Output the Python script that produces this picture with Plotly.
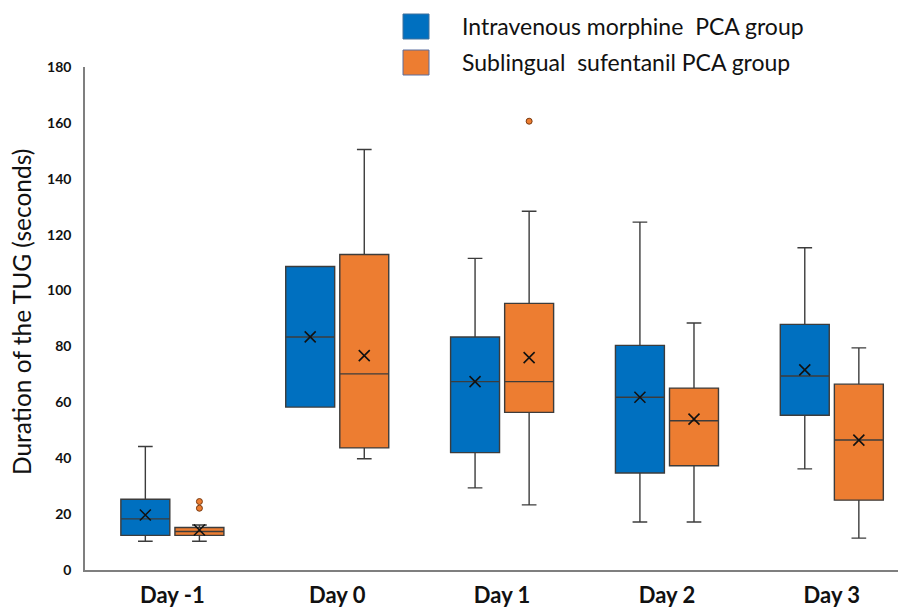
import plotly.graph_objects as go

days = ["Day -1", "Day 0", "Day 1", "Day 2", "Day 3"]
groups = ["Intravenous morphine  PCA group", "Sublingual  sufentanil PCA group"]
y_title = "Duration of the TUG (seconds)"

# Intravenous morphine PCA group
iv_min = [10.3, 58.3, 29.4, 17.2, 36.2]
iv_q1 = [12.4, 58.3, 42.0, 34.7, 55.4]
iv_med = [18.3, 83.4, 67.4, 61.8, 69.4]
iv_q3 = [25.3, 108.6, 83.4, 80.4, 87.9]
iv_max = [44.2, 108.6, 111.5, 124.5, 115.3]
iv_mean = [19.7, 83.4, 67.4, 61.8, 71.6]

# Sublingual sufentanil PCA group
sl_min = [10.3, 39.8, 23.3, 17.2, 11.4]
sl_q1 = [12.4, 43.7, 56.4, 37.3, 25.0]
sl_med = [13.8, 70.2, 67.4, 53.4, 46.5]
sl_q3 = [15.2, 112.9, 95.4, 65.1, 66.5]
sl_max = [16.1, 150.5, 128.4, 88.4, 79.5]
sl_mean = [14.3, 76.7, 76.0, 54.0, 46.5]

# Outliers (day index, value)
sl_out_day = [0, 0, 2]
sl_out_val = [22.1, 24.5, 160.6]

BLUE = "#0070C0"
ORANGE = "#ED7D31"
LINE = "#3c3c3c"
OFF = 0.164
BW = 0.297

idx = list(range(len(days)))
fig = go.Figure()

series = [
    (iv_min, iv_q1, iv_med, iv_q3, iv_max, iv_mean, BLUE, -OFF),
    (sl_min, sl_q1, sl_med, sl_q3, sl_max, sl_mean, ORANGE, OFF),
]
for (mn, q1, md, q3, mx, mean, col, off), name in zip(series, groups):
    xs = [i + off for i in idx]
    fig.add_trace(go.Box(
        x=xs, q1=q1, median=md, q3=q3, lowerfence=mn, upperfence=mx,
        name=name, width=BW, fillcolor=col,
        line=dict(color=LINE, width=1.4), whiskerwidth=0.3,
        boxpoints=False, showlegend=False, hoverinfo="skip",
    ))
    fig.add_trace(go.Scatter(
        x=xs, y=mean, mode="markers", showlegend=False, hoverinfo="skip",
        marker=dict(symbol="x-thin", size=11, line=dict(color="#111111", width=1.6)),
    ))

fig.add_trace(go.Scatter(
    x=[sl_out_day[k] + OFF for k in range(len(sl_out_day))], y=sl_out_val,
    mode="markers", showlegend=False, hoverinfo="skip",
    marker=dict(symbol="circle", size=6, color=ORANGE, line=dict(color="#7a3a10", width=1)),
))

# Legend drawn as squares + text (paper coords)
for k, (name, col) in enumerate(zip(groups, [BLUE, ORANGE])):
    yc = [26.5, 62.5][k]
    fig.add_shape(type="rect", xref="paper", yref="paper",
                  x0=(403 - 85) / 821, x1=(429 - 85) / 821,
                  y0=(570 - (yc + 12.5)) / 503, y1=(570 - (yc - 12.5)) / 503,
                  fillcolor=col, line=dict(color="#41719C" if k == 0 else "#5a6fa0", width=1))
    fig.add_annotation(xref="paper", yref="paper", x=(460 - 85) / 821,
                       y=(570 - yc) / 503, text=name, showarrow=False,
                       xanchor="left", yanchor="middle",
                       font=dict(family="Lato", size=23, color="#111111"))

# Y axis title
fig.add_annotation(xref="paper", yref="paper", x=(21 - 85) / 821, y=(570 - 312) / 503,
                   text=y_title, textangle=-90, showarrow=False,
                   xanchor="center", yanchor="middle",
                   font=dict(family="Lato", size=24.5, color="#111111"))

fig.update_layout(
    width=898, height=600,
    margin=dict(l=77, r=0, t=59, b=38),
    paper_bgcolor="white", plot_bgcolor="white",
    boxmode="overlay",
    font=dict(family="Lato", color="#111111"),
    xaxis=dict(
        tickmode="array", tickvals=idx, ticktext=days,
        range=[-0.53, 4.45], showgrid=False, zeroline=False,
        showline=True, linecolor="#7f7f7f", linewidth=1.5,
        ticks="", ticklabelstandoff=5,
        tickfont=dict(family="Lato", size=22, color="#111111", weight="bold"),
    ),
    yaxis=dict(
        range=[0, 180], tickvals=[0, 20, 40, 60, 80, 100, 120, 140, 160, 180],
        showgrid=False, zeroline=False, showline=True, linecolor="#7f7f7f", linewidth=1.5,
        ticks="", ticklabelstandoff=9,
        tickfont=dict(family="Lato", size=14, color="#111111", weight="bold"),
    ),
)

fig.write_html("out.html")
